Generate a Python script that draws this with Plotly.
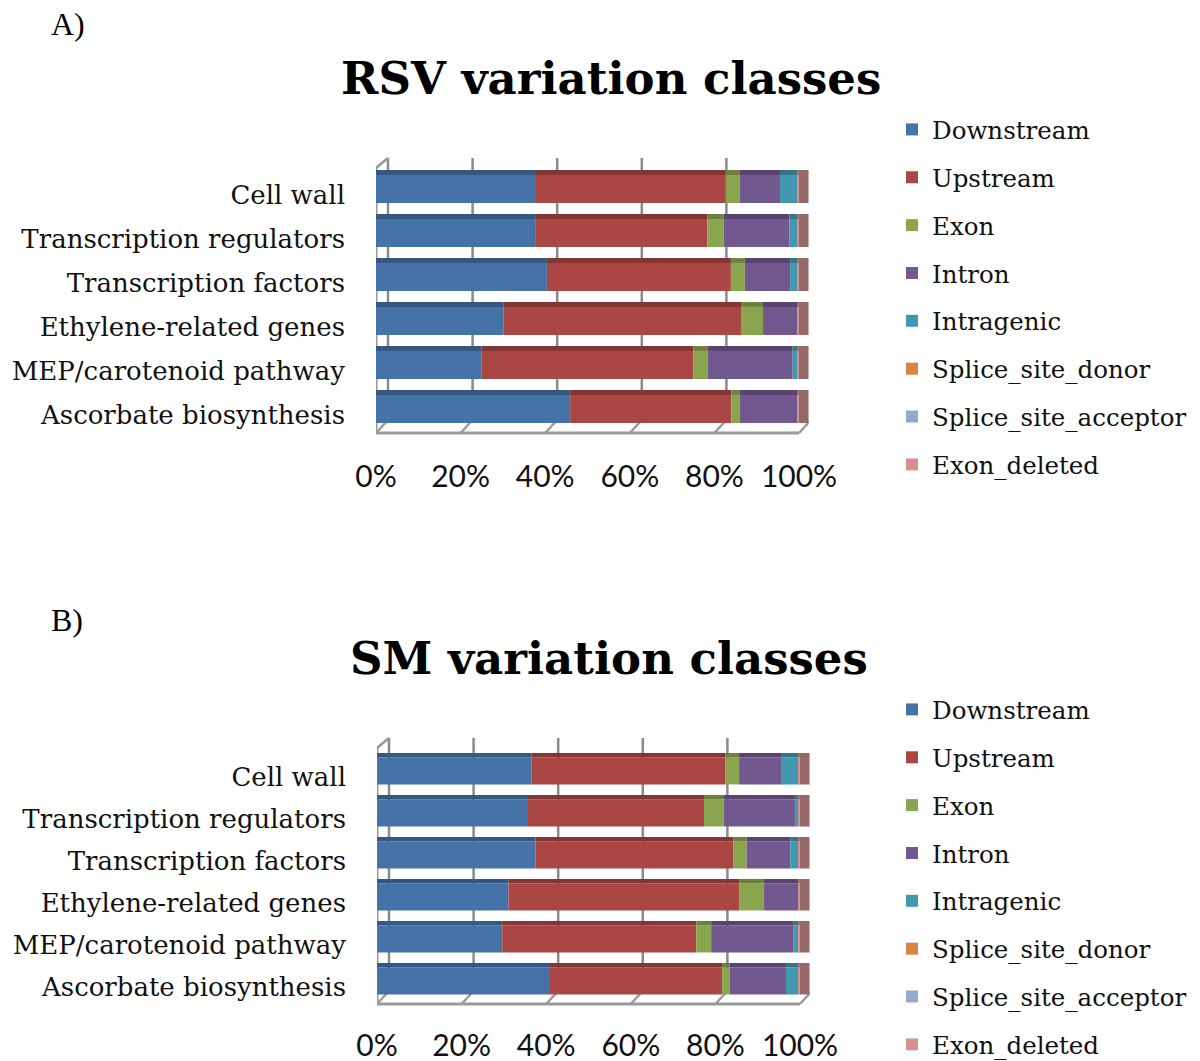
import numpy as np
import plotly.graph_objects as go

categories = ["Cell wall", "Transcription regulators", "Transcription factors",
              "Ethylene-related genes", "MEP/carotenoid pathway", "Ascorbate biosynthesis"]
classes = ["Downstream", "Upstream", "Exon", "Intron", "Intragenic",
           "Splice_site_donor", "Splice_site_acceptor", "Exon_deleted"]
colors = ["#4572A7", "#AA4643", "#89A54E", "#71588F", "#4198AF",
          "#DB843D", "#93A9CF", "#D19392"]

# percentages per class, rows in category order
rsv_downstream = [37.6, 37.8, 40.4, 30.1, 25.0, 45.9]
rsv_upstream = [45.1, 40.5, 43.5, 56.2, 50.0, 38.1]
rsv_exon = [3.3, 3.9, 3.3, 5.2, 3.5, 2.0]
rsv_intron = [9.5, 15.5, 10.7, 8.2, 20.0, 13.7]
rsv_intragenic = [4.2, 2.0, 1.8, 0.0, 1.2, 0.0]
rsv_donor = [0, 0, 0, 0, 0, 0]
rsv_acceptor = [0, 0, 0, 0, 0, 0]
rsv_deleted = [0.3, 0.3, 0.3, 0.3, 0.3, 0.3]

sm_downstream = [36.5, 35.7, 37.5, 31.1, 29.6, 40.9]
sm_upstream = [45.9, 41.6, 46.7, 54.5, 45.9, 40.7]
sm_exon = [3.2, 4.7, 3.2, 5.9, 3.5, 1.8]
sm_intron = [10.1, 16.8, 10.3, 8.2, 19.5, 13.3]
sm_intragenic = [4.0, 0.9, 2.0, 0.0, 1.2, 3.0]
sm_donor = [0, 0, 0, 0, 0, 0]
sm_acceptor = [0, 0, 0, 0, 0, 0]
sm_deleted = [0.3, 0.3, 0.3, 0.3, 0.3, 0.3]

x_ticks = [0, 20, 40, 60, 80, 100]
x_tick_labels = ["0%", "20%", "40%", "60%", "80%", "100%"]

rsv = [rsv_downstream, rsv_upstream, rsv_exon, rsv_intron, rsv_intragenic,
       rsv_donor, rsv_acceptor, rsv_deleted]
sm = [sm_downstream, sm_upstream, sm_exon, sm_intron, sm_intragenic,
      sm_donor, sm_acceptor, sm_deleted]

# the page body has an 8px margin, so the figure is drawn 8px in from the corner
OFF = 8
W, H = 1200 - OFF, 1061 - OFF
SERIF = "DejaVu Serif"
FRAME = "#9a9a9a"
GRID = "#8a8a8a"


def darker(hexcol, f=0.78):
    r, g, b = (int(hexcol[i:i + 2], 16) for i in (1, 3, 5))
    return "#%02x%02x%02x" % (int(r * f), int(g * f), int(b * f))


def px_x(p):
    return (p - OFF) / W


def px_y(p):
    return 1 - (p - OFF) / H


BAR_W = 0.64
TOP_W = 0.11
SIDE = 2.3        # depth of the bar's right side face, in axis units
XMAX = 100 + SIDE
fig = go.Figure()

for series, xa, ya, leg in [(rsv, "x", "y", "legend"), (sm, "x2", "y2", "legend2")]:
    arr = np.array(series, dtype=float)
    bases = np.vstack([np.zeros(arr.shape[1]), np.cumsum(arr, axis=0)[:-1]])
    totals = arr.sum(axis=0)
    for name, col, vals, base in zip(classes, colors, arr, bases):
        fig.add_trace(go.Bar(
            y=categories, x=vals, base=base, name=name, orientation="h",
            width=BAR_W, marker=dict(color=col, line=dict(width=0)),
            xaxis=xa, yaxis=ya, legend=leg, legendgroup=leg + name,
            hovertemplate="%{y}: %{x:.1f}%<extra>" + name + "</extra>",
        ))
        # darker top face of the 3-D bar
        fig.add_trace(go.Bar(
            y=categories, x=vals, base=base, name=name, orientation="h",
            width=TOP_W, offset=BAR_W / 2,
            marker=dict(color=darker(col), line=dict(width=0)),
            xaxis=xa, yaxis=ya, legend=leg, legendgroup=leg + name,
            showlegend=False, hoverinfo="skip",
        ))
    # right side face of the 3-D bar (last segment colour, shaded)
    fig.add_trace(go.Bar(
        y=categories, x=[SIDE] * len(categories), base=totals, orientation="h",
        width=BAR_W + TOP_W, offset=-BAR_W / 2,
        marker=dict(color=darker(colors[-1], 0.72), line=dict(width=0)),
        xaxis=xa, yaxis=ya, showlegend=False, hoverinfo="skip",
    ))

axis_common_x = dict(range=[0, XMAX], tickvals=x_ticks, ticktext=x_tick_labels,
                     showgrid=False, zeroline=False, showline=False, ticks="",
                     tickfont=dict(family="Lato", size=30, color="#111"),
                     fixedrange=True)
axis_common_y = dict(categoryorder="array", categoryarray=categories[::-1],
                     range=[-0.5, 5.5],
                     showgrid=False, zeroline=False, showline=False, ticks="",
                     ticklabelstandoff=30, ticklabelshift=6,
                     tickfont=dict(family=SERIF, size=26, color="#111"),
                     fixedrange=True)

# 3-D frame: (front floor y, back floor y, front wall top y, back top y) per chart
frames = [("x", 433, 420, 168, 158), ("x2", 1004, 991, 748, 738)]
DEPTH = 12
shapes = []
for xa, fy, by, ty, bty in frames:
    for v in x_ticks:
        # back gridlines
        shapes.append(dict(type="line", xref=xa, yref="paper", xsizemode="pixel",
                           xanchor=v, x0=DEPTH, x1=DEPTH, y0=px_y(by), y1=px_y(bty),
                           line=dict(color=GRID, width=2.5), layer="below"))
        # floor ticks
        shapes.append(dict(type="line", xref=xa, yref="paper", xsizemode="pixel",
                           xanchor=v, x0=0, x1=DEPTH, y0=px_y(fy), y1=px_y(by),
                           line=dict(color=FRAME, width=2.5), layer="below"))
    # floor front edge
    shapes.append(dict(type="line", xref=xa, yref="paper", x0=0, x1=100,
                       y0=px_y(fy), y1=px_y(fy), line=dict(color=FRAME, width=3),
                       layer="below"))
    # left wall front edge and top corner
    shapes.append(dict(type="line", xref=xa, yref="paper", x0=0, x1=0,
                       y0=px_y(fy), y1=px_y(ty), line=dict(color=FRAME, width=3),
                       layer="below"))
    shapes.append(dict(type="line", xref=xa, yref="paper", xsizemode="pixel",
                       xanchor=0, x0=0, x1=DEPTH, y0=px_y(ty), y1=px_y(bty),
                       line=dict(color=FRAME, width=2.5), layer="below"))

SCALE = 423 / 100  # pixels per percent

fig.update_layout(
    width=W, height=H,
    margin=dict(l=0, r=0, t=0, b=0, autoexpand=False),
    paper_bgcolor="white", plot_bgcolor="rgba(0,0,0,0)",
    barmode="overlay",
    showlegend=True,
    xaxis=dict(domain=[px_x(376), px_x(376 + XMAX * SCALE)], anchor="y",
               ticklabelstandoff=25, **axis_common_x),
    yaxis=dict(domain=[px_y(431), px_y(167)], anchor="x", **axis_common_y),
    xaxis2=dict(domain=[px_x(377), px_x(377 + XMAX * SCALE)], anchor="y2",
                ticklabelstandoff=23, **axis_common_x),
    yaxis2=dict(domain=[px_y(1002), px_y(750)], anchor="x2", **axis_common_y),
    legend=dict(x=px_x(892), y=px_y(107), xanchor="left", yanchor="top",
                font=dict(family=SERIF, size=24.5, color="#111"),
                tracegroupgap=13, bgcolor="rgba(0,0,0,0)"),
    legend2=dict(x=px_x(892), y=px_y(687), xanchor="left", yanchor="top",
                 font=dict(family=SERIF, size=24.5, color="#111"),
                 tracegroupgap=13, bgcolor="rgba(0,0,0,0)"),
    shapes=shapes,
    annotations=[
        dict(text="<b>RSV variation classes</b>", x=px_x(611), y=px_y(78),
             xref="paper", yref="paper", showarrow=False, xanchor="center", yanchor="middle",
             font=dict(family=SERIF, size=45, color="#000")),
        dict(text="<b>SM variation classes</b>", x=px_x(609), y=px_y(658),
             xref="paper", yref="paper", showarrow=False, xanchor="center", yanchor="middle",
             font=dict(family=SERIF, size=45, color="#000")),
        dict(text="A)", x=px_x(50), y=px_y(24), xref="paper", yref="paper",
             showarrow=False, xanchor="left", yanchor="middle", borderpad=0,
             font=dict(family="Liberation Serif", size=32, color="#000")),
        dict(text="B)", x=px_x(50), y=px_y(620), xref="paper", yref="paper",
             showarrow=False, xanchor="left", yanchor="middle", borderpad=0,
             font=dict(family="Liberation Serif", size=32, color="#000")),
    ],
)

fig.write_html("out.html")
